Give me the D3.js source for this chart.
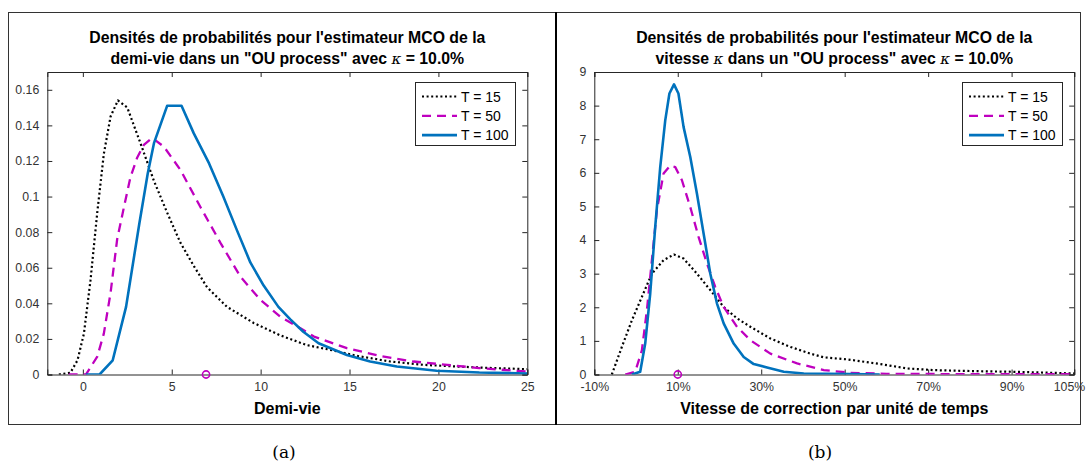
<!DOCTYPE html>
<html><head><meta charset="utf-8">
<script src="https://cdn.jsdelivr.net/npm/d3@7"></script>
<style>body{margin:0;background:#fff}svg{display:block}</style>
</head><body>
<script>
// ---- Data ----
const seriesNames = ["T = 15", "T = 50", "T = 100"];

// Panel (a): half-life densities
const hlX15 = [-1.35,-0.7,-0.3,0.06,0.43,0.81,1.18,1.56,1.97,2.5,3.24,3.99,4.74,5.49,6.24,6.99,8.11,9.6,11.1,12.6,13.9,15.4,17.3,19.2,21.0,23.1,25];
const hlY15 = [0,0.001,0.008,0.023,0.053,0.091,0.124,0.145,0.154,0.150,0.130,0.109,0.091,0.074,0.061,0.049,0.038,0.029,0.022,0.0165,0.0139,0.0105,0.0073,0.0054,0.0045,0.0036,0.003];
const hlX50 = [-0.8,0.17,0.81,1.18,1.56,1.93,2.31,2.68,3.06,3.43,3.9,4.56,5.49,6.62,7.74,8.86,9.98,11.1,12.24,13.0,14.85,16.7,18.6,20.5,22.3,24.2,25];
const hlY50 = [0,0,0.010,0.023,0.046,0.076,0.094,0.111,0.122,0.129,0.133,0.128,0.115,0.094,0.074,0.055,0.042,0.0325,0.026,0.0213,0.0148,0.0105,0.0073,0.0054,0.0036,0.0022,0.0017];
const hlX100 = [0.17,0.94,1.68,2.43,3.18,3.65,4.0,4.74,5.55,6.24,7.1,7.9,8.67,9.42,10.17,11.0,11.67,12.4,13.26,14.85,16.16,17.66,19.9,22.3,25];
const hlY100 = [0,0,0.008,0.038,0.085,0.113,0.130,0.151,0.151,0.1355,0.1186,0.100,0.081,0.063,0.050,0.038,0.031,0.024,0.0176,0.011,0.0073,0.0045,0.0021,0.0011,0.0006];
const hlTrue = 6.93;
const hlXTicks = [0,5,10,15,20,25];
const hlYTicks = [0,0.02,0.04,0.06,0.08,0.1,0.12,0.14,0.16];

// Panel (b): speed (kappa) densities
const kX15 = [-0.058,-0.034,-0.010,0.014,0.038,0.066,0.091,0.114,0.146,0.178,0.21,0.242,0.274,0.322,0.37,0.418,0.45,0.506,0.586,0.65,0.714,0.81,0.906,1.0,1.05];
const kY15 = [0,0.82,1.61,2.31,3.0,3.40,3.57,3.45,3.0,2.51,2.01,1.67,1.42,1.07,0.82,0.62,0.51,0.45,0.31,0.18,0.13,0.10,0.08,0.05,0.03];
const kX50 = [-0.026,-0.002,0.014,0.026,0.038,0.05,0.066,0.082,0.094,0.11,0.13,0.15,0.17,0.19,0.21,0.242,0.274,0.322,0.386,0.45,0.514,0.6,0.8,1.05];
const kY50 = [0,0.08,0.72,1.91,3.40,4.89,5.98,6.22,6.17,5.78,4.98,4.09,3.30,2.60,2.01,1.42,1.02,0.62,0.33,0.13,0.05,0.02,0.01,0.01];
const kX100 = [-0.01,0.01,0.022,0.034,0.046,0.058,0.07,0.08,0.091,0.1016,0.114,0.13,0.146,0.162,0.178,0.194,0.21,0.234,0.258,0.282,0.314,0.354,0.402,0.514,0.584];
const kY100 = [0,0.08,0.92,2.41,4.39,6.17,7.56,8.36,8.63,8.36,7.36,6.47,5.38,4.19,3.0,2.11,1.52,0.92,0.52,0.31,0.21,0.08,0.03,0.01,0];
const kTrue = 0.10;
const kXTicks = [-0.10,0.10,0.30,0.50,0.70,0.90,1.05];
const kYTicks = [0,1,2,3,4,5,6,7,8,9];

// ---- Styles ----
const colors = ["#000000", "#bf00bf", "#0072bd"];
const dashes = ["2,2.6", "9,6", null];
const widths = [2.2, 2.3, 2.6];
const FONT = "'Liberation Sans', Arial, Helvetica, sans-serif";

const svg = d3.select("body").append("svg").attr("width",1088).attr("height",470);
svg.append("rect").attr("width",1088).attr("height",470).attr("fill","#fff");

// Panel frames
svg.append("rect").attr("x",8.5).attr("y",12.5).attr("width",1072).attr("height",412)
  .attr("fill","none").attr("stroke","#333").attr("stroke-width",1);
svg.append("line").attr("x1",556).attr("x2",556).attr("y1",12).attr("y2",425)
  .attr("stroke","#000").attr("stroke-width",2);

function panel(opts){
  const {id,x0,x1,y0,y1,xDom,yDom,xTicks,yTicks,xFmt,yFmt,data,truth,title,xlabel,legX,caption,capX} = opts;
  const x = d3.scaleLinear().domain(xDom).range([x0,x1]);
  const y = d3.scaleLinear().domain(yDom).range([y1,y0]);
  const g = svg.append("g");
  g.append("clipPath").attr("id","clip"+id).append("rect")
    .attr("x",x0).attr("y",y0).attr("width",x1-x0).attr("height",y1-y0);

  // axes
  const tickCol = "#262626";
  const ax = g.append("g").attr("transform",`translate(0,${y1})`)
    .call(d3.axisBottom(x).tickValues(xTicks).tickFormat(xFmt).tickSize(-5).tickPadding(8));
  const axT = g.append("g").attr("transform",`translate(0,${y0})`)
    .call(d3.axisTop(x).tickValues(xTicks).tickFormat("").tickSize(-5));
  const ay = g.append("g").attr("transform",`translate(${x0},0)`)
    .call(d3.axisLeft(y).tickValues(yTicks).tickFormat(yFmt).tickSize(-5).tickPadding(8));
  const ayR = g.append("g").attr("transform",`translate(${x1},0)`)
    .call(d3.axisRight(y).tickValues(yTicks).tickFormat("").tickSize(-5));
  [ax,axT,ay,ayR].forEach(a=>{
    a.select(".domain").attr("stroke",tickCol).attr("stroke-width",1);
    a.selectAll(".tick line").attr("stroke",tickCol);
    a.selectAll("text").attr("fill","#333").style("font-family",FONT).style("font-size","12.3px");
  });
  // keep the last bottom tick label inside the picture
  const lastLbl = ax.selectAll(".tick text").filter((d,i,n)=> i===n.length-1);
  const over = x1 + 18 - 1087;
  if (over > 0) lastLbl.attr("dx", -over);

  // lines
  const line = d3.line().x(d=>x(d[0])).y(d=>y(d[1]));
  data.forEach((s,i)=>{
    const pts = s[0].map((v,j)=>[v,s[1][j]]);
    g.append("path").datum(pts).attr("d",line).attr("clip-path",`url(#clip${id})`)
      .attr("fill","none").attr("stroke",colors[i]).attr("stroke-width",widths[i])
      .attr("stroke-dasharray",dashes[i]).attr("stroke-linejoin","round");
  });
  // true value marker
  g.append("circle").attr("cx",x(truth)).attr("cy",y(0)).attr("r",3.6)
    .attr("fill","none").attr("stroke",colors[1]).attr("stroke-width",1.6);

  // title
  const cx = (x0+x1)/2;
  const t = g.append("text").attr("text-anchor","middle").attr("font-weight","bold")
    .style("font-family",FONT).style("font-size","15.8px").attr("fill","#000");
  title.forEach((ln,k)=>{
    const tl = t.append("tspan").attr("x",cx).attr("y",43+k*21);
    ln.forEach(part=>{
      if(part.k){ tl.append("tspan").text(part.t).attr("font-weight","normal")
        .style("font-family","'DejaVu Serif', 'Liberation Serif', serif").style("font-style","italic").style("font-size","15px"); }
      else tl.append("tspan").text(part.t);
    });
  });
  // x label
  g.append("text").attr("x",cx).attr("y",414).attr("text-anchor","middle").attr("font-weight","bold")
    .style("font-family",FONT).style("font-size","16px").text(xlabel);

  // legend
  const lg = g.append("g");
  lg.append("rect").attr("x",legX+0.5).attr("y",82.5).attr("width",100).attr("height",63)
    .attr("fill","#fff").attr("stroke","#262626").attr("stroke-width",1);
  seriesNames.forEach((n,i)=>{
    const yy = 96.5 + i*19.3;
    lg.append("line").attr("x1",legX+7).attr("x2",legX+42).attr("y1",yy).attr("y2",yy)
      .attr("stroke",colors[i]).attr("stroke-width",widths[i]).attr("stroke-dasharray",dashes[i]);
    lg.append("text").attr("x",legX+46).attr("y",yy+5).style("font-family",FONT)
      .style("font-size","14px").attr("fill","#000").text(n);
  });

  // caption
  svg.append("text").attr("x",capX).attr("y",458).attr("text-anchor","middle")
    .style("font-family","'DejaVu Serif', 'Liberation Serif', serif").style("font-size","17px").text(caption);
}

const pctFmt = d => Math.round(d*100) + "%";

panel({id:"a", x0:47.3, x1:527.3, y0:72, y1:374.5, xDom:[-2,25], yDom:[0,0.17],
  xTicks:hlXTicks, yTicks:hlYTicks, xFmt:d3.format("d"), yFmt:d=> d===0?"0":String(+d.toFixed(2)),
  data:[[hlX15,hlY15],[hlX50,hlY50],[hlX100,hlY100]], truth:hlTrue,
  title:[[{t:"Densités de probabilités pour l'estimateur MCO de la"}],
         [{t:"demi-vie dans un \"OU process\" avec "},{t:"κ",k:true},{t:" = 10.0%"}]],
  xlabel:"Demi-vie", legX:415, caption:"(a)", capX:284});

panel({id:"b", x0:594.3, x1:1074.2, y0:72, y1:374.5, xDom:[-0.10,1.05], yDom:[0,9],
  xTicks:kXTicks, yTicks:kYTicks, xFmt:pctFmt, yFmt:d3.format("d"),
  data:[[kX15,kY15],[kX50,kY50],[kX100,kY100]], truth:kTrue,
  title:[[{t:"Densités de probabilités pour l'estimateur MCO de la"}],
         [{t:"vitesse "},{t:"κ",k:true},{t:" dans un \"OU process\" avec "},{t:"κ",k:true},{t:" = 10.0%"}]],
  xlabel:"Vitesse de correction par unité de temps", legX:962, caption:"(b)", capX:820});
</script>
</body></html>
